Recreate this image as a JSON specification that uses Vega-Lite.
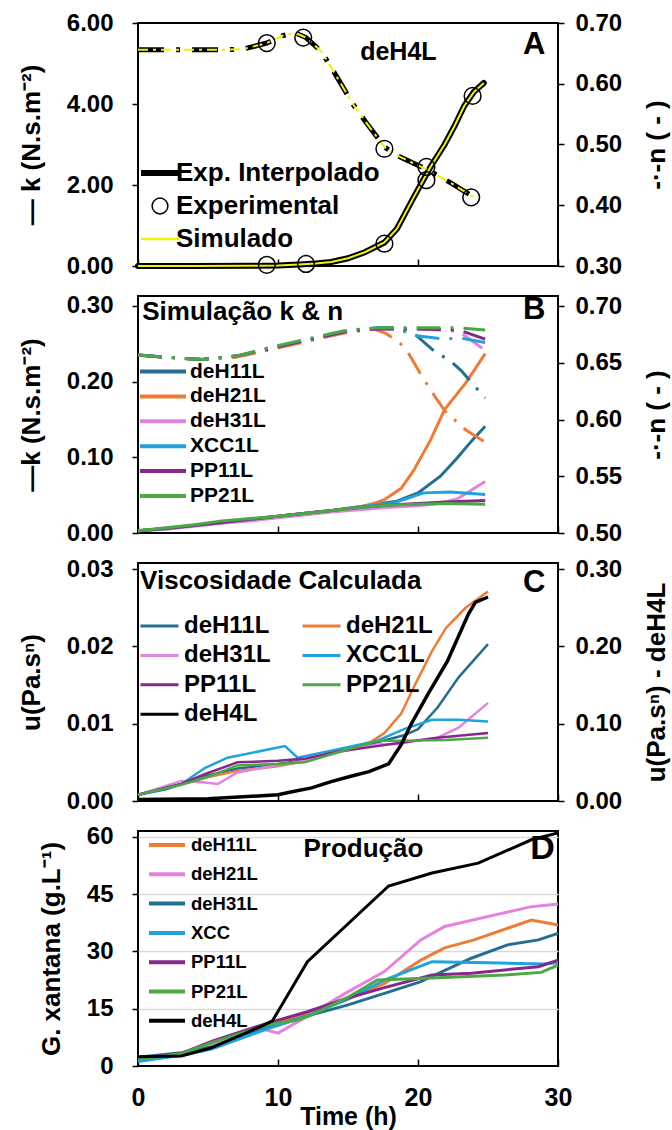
{
  "$schema": "https://vega.github.io/schema/vega-lite/v6.json",
  "background": "white",
  "padding": {"left": 17, "top": 10, "right": 5, "bottom": 5},
  "bounds": "flush",
  "spacing": 30,
  "config": {
    "font": "Liberation Sans",
    "view": {"stroke": "black", "strokeWidth": 2},
    "text": {"font": "Liberation Sans", "fontWeight": "bold", "color": "black"},
    "axis": {"labelFont": "Liberation Sans", "labelFontWeight": "bold", "labelFontSize": 24, "labelColor": "black", "titleFont": "Liberation Sans", "titleFontWeight": "bold", "titleFontSize": 26, "titleColor": "black", "tickColor": "black", "tickWidth": 1.5, "tickSize": 6, "domain": false, "grid": false, "labelFlush": false},
    "legend": {"labelFont": "Liberation Sans", "labelFontWeight": "bold", "labelColor": "black", "padding": 0, "labelLimit": 400}
  },
  "datasets": {
    "A": [
      {"m":"k","t":0,"v":0},{"m":"k","t":4,"v":0},{"m":"k","t":8,"v":0.005},{"m":"k","t":10,"v":0.015},{"m":"k","t":11.5,"v":0.035},{"m":"k","t":12.7,"v":0.06},{"m":"k","t":13.8,"v":0.1},{"m":"k","t":15,"v":0.19},{"m":"k","t":16.2,"v":0.34},{"m":"k","t":17.6,"v":0.58},{"m":"k","t":18.5,"v":0.92},{"m":"k","t":19.7,"v":1.7},{"m":"k","t":20.9,"v":2.45},{"m":"k","t":21.9,"v":3.0},{"m":"k","t":22.6,"v":3.45},{"m":"k","t":23.3,"v":3.95},{"m":"k","t":24,"v":4.3},{"m":"k","t":24.7,"v":4.52},
      {"m":"kexp","t":9.2,"v":0.03},{"m":"kexp","t":12,"v":0.05},{"m":"kexp","t":17.6,"v":0.55},{"m":"kexp","t":20.6,"v":2.12},{"m":"kexp","t":23.9,"v":4.2},
      {"m":"n","t":0,"v":0.656},{"m":"n","t":2.7,"v":0.656},{"m":"n","t":4.4,"v":0.656},{"m":"n","t":6,"v":0.656},{"m":"n","t":7.5,"v":0.657},{"m":"n","t":9.2,"v":0.667},{"m":"n","t":10.3,"v":0.679},{"m":"n","t":11.2,"v":0.684},{"m":"n","t":12,"v":0.676},{"m":"n","t":13.1,"v":0.653},{"m":"n","t":13.9,"v":0.623},{"m":"n","t":15.4,"v":0.565},{"m":"n","t":16.3,"v":0.536},{"m":"n","t":17.6,"v":0.496},{"m":"n","t":18.4,"v":0.483},{"m":"n","t":20.7,"v":0.458},{"m":"n","t":22.4,"v":0.436},{"m":"n","t":23.8,"v":0.416},{"m":"n","t":24.4,"v":0.409},
      {"m":"nexp","t":9.2,"v":0.667},{"m":"nexp","t":11.8,"v":0.676},{"m":"nexp","t":17.6,"v":0.493},{"m":"nexp","t":20.6,"v":0.463},{"m":"nexp","t":23.8,"v":0.413}
    ],
    "B": [
      {"s":"deH11L","m":"k","t":0,"v":0.003},{"s":"deH11L","m":"k","t":2,"v":0.006},{"s":"deH11L","m":"k","t":4,"v":0.010},{"s":"deH11L","m":"k","t":6,"v":0.014},{"s":"deH11L","m":"k","t":8,"v":0.018},{"s":"deH11L","m":"k","t":10,"v":0.022},{"s":"deH11L","m":"k","t":12,"v":0.026},{"s":"deH11L","m":"k","t":14,"v":0.030},{"s":"deH11L","m":"k","t":16,"v":0.035},{"s":"deH11L","m":"k","t":17,"v":0.038},{"s":"deH11L","m":"k","t":18.5,"v":0.042},{"s":"deH11L","m":"k","t":20,"v":0.053},{"s":"deH11L","m":"k","t":21.6,"v":0.075},{"s":"deH11L","m":"k","t":22.8,"v":0.099},{"s":"deH11L","m":"k","t":23.8,"v":0.121},{"s":"deH11L","m":"k","t":24.8,"v":0.141},
      {"s":"deH21L","m":"k","t":0,"v":0.003},{"s":"deH21L","m":"k","t":2,"v":0.006},{"s":"deH21L","m":"k","t":4,"v":0.010},{"s":"deH21L","m":"k","t":6,"v":0.014},{"s":"deH21L","m":"k","t":8,"v":0.018},{"s":"deH21L","m":"k","t":10,"v":0.022},{"s":"deH21L","m":"k","t":12,"v":0.026},{"s":"deH21L","m":"k","t":14,"v":0.030},{"s":"deH21L","m":"k","t":16,"v":0.035},{"s":"deH21L","m":"k","t":17,"v":0.040},{"s":"deH21L","m":"k","t":17.6,"v":0.044},{"s":"deH21L","m":"k","t":18.8,"v":0.059},{"s":"deH21L","m":"k","t":19.7,"v":0.083},{"s":"deH21L","m":"k","t":20.9,"v":0.123},{"s":"deH21L","m":"k","t":21.9,"v":0.163},{"s":"deH21L","m":"k","t":23.4,"v":0.198},{"s":"deH21L","m":"k","t":24.8,"v":0.237},
      {"s":"deH31L","m":"k","t":0,"v":0.003},{"s":"deH31L","m":"k","t":2,"v":0.005},{"s":"deH31L","m":"k","t":4,"v":0.009},{"s":"deH31L","m":"k","t":6,"v":0.013},{"s":"deH31L","m":"k","t":8,"v":0.016},{"s":"deH31L","m":"k","t":10,"v":0.020},{"s":"deH31L","m":"k","t":12,"v":0.024},{"s":"deH31L","m":"k","t":14,"v":0.028},{"s":"deH31L","m":"k","t":16,"v":0.031},{"s":"deH31L","m":"k","t":18,"v":0.034},{"s":"deH31L","m":"k","t":20,"v":0.036},{"s":"deH31L","m":"k","t":21.5,"v":0.039},{"s":"deH31L","m":"k","t":22.8,"v":0.045},{"s":"deH31L","m":"k","t":24.8,"v":0.068},
      {"s":"XCC1L","m":"k","t":0,"v":0.003},{"s":"XCC1L","m":"k","t":2,"v":0.006},{"s":"XCC1L","m":"k","t":4,"v":0.010},{"s":"XCC1L","m":"k","t":6,"v":0.014},{"s":"XCC1L","m":"k","t":8,"v":0.018},{"s":"XCC1L","m":"k","t":10,"v":0.022},{"s":"XCC1L","m":"k","t":12,"v":0.026},{"s":"XCC1L","m":"k","t":14,"v":0.030},{"s":"XCC1L","m":"k","t":16,"v":0.035},{"s":"XCC1L","m":"k","t":17,"v":0.037},{"s":"XCC1L","m":"k","t":18.3,"v":0.040},{"s":"XCC1L","m":"k","t":20.4,"v":0.053},{"s":"XCC1L","m":"k","t":22.3,"v":0.054},{"s":"XCC1L","m":"k","t":24.8,"v":0.051},
      {"s":"PP11L","m":"k","t":0,"v":0.003},{"s":"PP11L","m":"k","t":2,"v":0.006},{"s":"PP11L","m":"k","t":4,"v":0.010},{"s":"PP11L","m":"k","t":6,"v":0.014},{"s":"PP11L","m":"k","t":8,"v":0.018},{"s":"PP11L","m":"k","t":10,"v":0.022},{"s":"PP11L","m":"k","t":12,"v":0.026},{"s":"PP11L","m":"k","t":14,"v":0.030},{"s":"PP11L","m":"k","t":16,"v":0.034},{"s":"PP11L","m":"k","t":18,"v":0.037},{"s":"PP11L","m":"k","t":20,"v":0.039},{"s":"PP11L","m":"k","t":22,"v":0.041},{"s":"PP11L","m":"k","t":24.8,"v":0.043},
      {"s":"PP21L","m":"k","t":0,"v":0.003},{"s":"PP21L","m":"k","t":2,"v":0.007},{"s":"PP21L","m":"k","t":4,"v":0.011},{"s":"PP21L","m":"k","t":6,"v":0.016},{"s":"PP21L","m":"k","t":8,"v":0.019},{"s":"PP21L","m":"k","t":10,"v":0.022},{"s":"PP21L","m":"k","t":12,"v":0.026},{"s":"PP21L","m":"k","t":14,"v":0.030},{"s":"PP21L","m":"k","t":16,"v":0.034},{"s":"PP21L","m":"k","t":18,"v":0.037},{"s":"PP21L","m":"k","t":20,"v":0.038},{"s":"PP21L","m":"k","t":22,"v":0.039},{"s":"PP21L","m":"k","t":24.8,"v":0.038},
      {"s":"deH11L","m":"n","t":0,"v":0.657},{"s":"deH11L","m":"n","t":2,"v":0.655},{"s":"deH11L","m":"n","t":4.6,"v":0.653},{"s":"deH11L","m":"n","t":7,"v":0.656},{"s":"deH11L","m":"n","t":9.2,"v":0.662},{"s":"deH11L","m":"n","t":11,"v":0.667},{"s":"deH11L","m":"n","t":13.5,"v":0.674},{"s":"deH11L","m":"n","t":15,"v":0.678},{"s":"deH11L","m":"n","t":17.2,"v":0.681},{"s":"deH11L","m":"n","t":18.5,"v":0.681},{"s":"deH11L","m":"n","t":19.9,"v":0.674},{"s":"deH11L","m":"n","t":21.2,"v":0.660},{"s":"deH11L","m":"n","t":22.3,"v":0.652},{"s":"deH11L","m":"n","t":23.1,"v":0.643},{"s":"deH11L","m":"n","t":24.8,"v":0.619},
      {"s":"deH21L","m":"n","t":0,"v":0.657},{"s":"deH21L","m":"n","t":2,"v":0.655},{"s":"deH21L","m":"n","t":4.6,"v":0.653},{"s":"deH21L","m":"n","t":7,"v":0.655},{"s":"deH21L","m":"n","t":9.2,"v":0.661},{"s":"deH21L","m":"n","t":11,"v":0.666},{"s":"deH21L","m":"n","t":13.5,"v":0.673},{"s":"deH21L","m":"n","t":15,"v":0.677},{"s":"deH21L","m":"n","t":16.8,"v":0.680},{"s":"deH21L","m":"n","t":17.7,"v":0.676},{"s":"deH21L","m":"n","t":18.6,"v":0.669},{"s":"deH21L","m":"n","t":19.3,"v":0.659},{"s":"deH21L","m":"n","t":20.2,"v":0.640},{"s":"deH21L","m":"n","t":20.8,"v":0.628},{"s":"deH21L","m":"n","t":21.4,"v":0.617},{"s":"deH21L","m":"n","t":21.9,"v":0.608},{"s":"deH21L","m":"n","t":23.4,"v":0.591},{"s":"deH21L","m":"n","t":24.8,"v":0.580},
      {"s":"deH31L","m":"n","t":0,"v":0.657},{"s":"deH31L","m":"n","t":2,"v":0.655},{"s":"deH31L","m":"n","t":4.6,"v":0.653},{"s":"deH31L","m":"n","t":7,"v":0.656},{"s":"deH31L","m":"n","t":9.2,"v":0.662},{"s":"deH31L","m":"n","t":11,"v":0.667},{"s":"deH31L","m":"n","t":13.5,"v":0.674},{"s":"deH31L","m":"n","t":15,"v":0.678},{"s":"deH31L","m":"n","t":17.2,"v":0.680},{"s":"deH31L","m":"n","t":20,"v":0.680},{"s":"deH31L","m":"n","t":22.9,"v":0.678},{"s":"deH31L","m":"n","t":24.8,"v":0.661},
      {"s":"XCC1L","m":"n","t":0,"v":0.657},{"s":"XCC1L","m":"n","t":2,"v":0.655},{"s":"XCC1L","m":"n","t":4.6,"v":0.653},{"s":"XCC1L","m":"n","t":7,"v":0.656},{"s":"XCC1L","m":"n","t":9.2,"v":0.662},{"s":"XCC1L","m":"n","t":11,"v":0.667},{"s":"XCC1L","m":"n","t":13.5,"v":0.674},{"s":"XCC1L","m":"n","t":15,"v":0.678},{"s":"XCC1L","m":"n","t":17.2,"v":0.681},{"s":"XCC1L","m":"n","t":18.5,"v":0.680},{"s":"XCC1L","m":"n","t":19.9,"v":0.674},{"s":"XCC1L","m":"n","t":21.8,"v":0.671},{"s":"XCC1L","m":"n","t":23,"v":0.672},{"s":"XCC1L","m":"n","t":24.8,"v":0.668},
      {"s":"PP11L","m":"n","t":0,"v":0.657},{"s":"PP11L","m":"n","t":2,"v":0.655},{"s":"PP11L","m":"n","t":4.6,"v":0.653},{"s":"PP11L","m":"n","t":7,"v":0.656},{"s":"PP11L","m":"n","t":9.2,"v":0.662},{"s":"PP11L","m":"n","t":11,"v":0.667},{"s":"PP11L","m":"n","t":13.5,"v":0.674},{"s":"PP11L","m":"n","t":15,"v":0.678},{"s":"PP11L","m":"n","t":17.2,"v":0.680},{"s":"PP11L","m":"n","t":20,"v":0.680},{"s":"PP11L","m":"n","t":22.9,"v":0.679},{"s":"PP11L","m":"n","t":24.8,"v":0.671},
      {"s":"PP21L","m":"n","t":0,"v":0.657},{"s":"PP21L","m":"n","t":2,"v":0.655},{"s":"PP21L","m":"n","t":4.6,"v":0.653},{"s":"PP21L","m":"n","t":7,"v":0.656},{"s":"PP21L","m":"n","t":9.2,"v":0.663},{"s":"PP21L","m":"n","t":11,"v":0.668},{"s":"PP21L","m":"n","t":13.5,"v":0.675},{"s":"PP21L","m":"n","t":15,"v":0.679},{"s":"PP21L","m":"n","t":17.2,"v":0.681},{"s":"PP21L","m":"n","t":20,"v":0.681},{"s":"PP21L","m":"n","t":22.9,"v":0.681},{"s":"PP21L","m":"n","t":24.8,"v":0.679}
    ],
    "C": [
      {"s":"deH11L","t":0,"v":0.0008},{"s":"deH11L","t":2,"v":0.0015},{"s":"deH11L","t":3.1,"v":0.0022},{"s":"deH11L","t":4.8,"v":0.0032},{"s":"deH11L","t":7.1,"v":0.0042},{"s":"deH11L","t":10,"v":0.0048},{"s":"deH11L","t":12,"v":0.0053},{"s":"deH11L","t":14.3,"v":0.0064},{"s":"deH11L","t":17.1,"v":0.0076},{"s":"deH11L","t":19,"v":0.0085},{"s":"deH11L","t":20,"v":0.0093},{"s":"deH11L","t":21.4,"v":0.0121},{"s":"deH11L","t":22.9,"v":0.016},{"s":"deH11L","t":25,"v":0.0203},
      {"s":"deH21L","t":0,"v":0.0008},{"s":"deH21L","t":3.1,"v":0.0022},{"s":"deH21L","t":4.8,"v":0.003},{"s":"deH21L","t":7.1,"v":0.0039},{"s":"deH21L","t":10,"v":0.0045},{"s":"deH21L","t":12,"v":0.0052},{"s":"deH21L","t":14.3,"v":0.0064},{"s":"deH21L","t":16.5,"v":0.0075},{"s":"deH21L","t":17.6,"v":0.0088},{"s":"deH21L","t":18.8,"v":0.0113},{"s":"deH21L","t":19.8,"v":0.0151},{"s":"deH21L","t":21,"v":0.0194},{"s":"deH21L","t":22,"v":0.0224},{"s":"deH21L","t":23.4,"v":0.025},{"s":"deH21L","t":25,"v":0.0271},
      {"s":"deH31L","t":0,"v":0.0008},{"s":"deH31L","t":3.1,"v":0.0026},{"s":"deH31L","t":4.8,"v":0.0024},{"s":"deH31L","t":5.7,"v":0.0022},{"s":"deH31L","t":7.1,"v":0.0037},{"s":"deH31L","t":9.5,"v":0.0045},{"s":"deH31L","t":12,"v":0.0052},{"s":"deH31L","t":14.3,"v":0.0063},{"s":"deH31L","t":17.1,"v":0.0073},{"s":"deH31L","t":18.6,"v":0.0074},{"s":"deH31L","t":21.4,"v":0.0082},{"s":"deH31L","t":22.9,"v":0.0095},{"s":"deH31L","t":25,"v":0.0127},
      {"s":"XCC1L","t":0,"v":0.0008},{"s":"XCC1L","t":3.1,"v":0.0022},{"s":"XCC1L","t":4.8,"v":0.0043},{"s":"XCC1L","t":6.4,"v":0.0056},{"s":"XCC1L","t":10.5,"v":0.0071},{"s":"XCC1L","t":11.4,"v":0.0056},{"s":"XCC1L","t":14.3,"v":0.0067},{"s":"XCC1L","t":17.1,"v":0.0078},{"s":"XCC1L","t":19,"v":0.0093},{"s":"XCC1L","t":21,"v":0.0105},{"s":"XCC1L","t":22.9,"v":0.0105},{"s":"XCC1L","t":25,"v":0.0103},
      {"s":"PP11L","t":0,"v":0.0008},{"s":"PP11L","t":3.1,"v":0.0022},{"s":"PP11L","t":4.8,"v":0.0035},{"s":"PP11L","t":7.1,"v":0.005},{"s":"PP11L","t":10,"v":0.0052},{"s":"PP11L","t":12,"v":0.0055},{"s":"PP11L","t":14.3,"v":0.0064},{"s":"PP11L","t":17.1,"v":0.0071},{"s":"PP11L","t":18.6,"v":0.0075},{"s":"PP11L","t":21.4,"v":0.0082},{"s":"PP11L","t":25,"v":0.0088},
      {"s":"PP21L","t":0,"v":0.0008},{"s":"PP21L","t":3.1,"v":0.0021},{"s":"PP21L","t":4.8,"v":0.003},{"s":"PP21L","t":7.1,"v":0.0046},{"s":"PP21L","t":10,"v":0.0048},{"s":"PP21L","t":11.9,"v":0.005},{"s":"PP21L","t":14.3,"v":0.0063},{"s":"PP21L","t":17.1,"v":0.0078},{"s":"PP21L","t":19,"v":0.0078},{"s":"PP21L","t":22,"v":0.0079},{"s":"PP21L","t":25,"v":0.0082}
    ],
    "C4": [
      {"s":"deH4L","t":0,"v":0.002},{"s":"deH4L","t":5,"v":0.003},{"s":"deH4L","t":10,"v":0.008},{"s":"deH4L","t":11,"v":0.012},{"s":"deH4L","t":12.4,"v":0.017},{"s":"deH4L","t":13.8,"v":0.025},{"s":"deH4L","t":15.2,"v":0.032},{"s":"deH4L","t":16.5,"v":0.038},{"s":"deH4L","t":17.9,"v":0.048},{"s":"deH4L","t":18.8,"v":0.073},{"s":"deH4L","t":19.5,"v":0.099},{"s":"deH4L","t":20.7,"v":0.138},{"s":"deH4L","t":22.1,"v":0.181},{"s":"deH4L","t":23.6,"v":0.242},{"s":"deH4L","t":24.1,"v":0.257},{"s":"deH4L","t":25,"v":0.264}
    ],
    "D": [
      {"s":"deH11L","t":0,"v":2},{"s":"deH11L","t":3.1,"v":3},{"s":"deH11L","t":5.3,"v":5.5},{"s":"deH11L","t":9.3,"v":10.8},{"s":"deH11L","t":12,"v":13.5},{"s":"deH11L","t":15,"v":17.5},{"s":"deH11L","t":17.6,"v":21.6},{"s":"deH11L","t":20.2,"v":27.7},{"s":"deH11L","t":21.9,"v":30.9},{"s":"deH11L","t":24,"v":33},{"s":"deH11L","t":28.1,"v":38.2},{"s":"deH11L","t":30,"v":36.9},
      {"s":"deH21L","t":0,"v":1.8},{"s":"deH21L","t":3.1,"v":3},{"s":"deH21L","t":5.3,"v":5.8},{"s":"deH21L","t":8.8,"v":9.8},{"s":"deH21L","t":10,"v":8.6},{"s":"deH21L","t":12,"v":12.8},{"s":"deH21L","t":14.8,"v":19},{"s":"deH21L","t":17.6,"v":24.7},{"s":"deH21L","t":20.2,"v":33},{"s":"deH21L","t":21.9,"v":36.5},{"s":"deH21L","t":28.1,"v":41.7},{"s":"deH21L","t":30,"v":42.4},
      {"s":"deH31L","t":0,"v":2.3},{"s":"deH31L","t":3.1,"v":3.5},{"s":"deH31L","t":5.3,"v":5},{"s":"deH31L","t":9.3,"v":10},{"s":"deH31L","t":12,"v":13},{"s":"deH31L","t":15,"v":16},{"s":"deH31L","t":17.6,"v":19},{"s":"deH31L","t":20.2,"v":22.1},{"s":"deH31L","t":23.8,"v":28.2},{"s":"deH31L","t":26.4,"v":31.7},{"s":"deH31L","t":28.6,"v":33},{"s":"deH31L","t":30,"v":34.7},
      {"s":"XCC","t":0,"v":1.2},{"s":"XCC","t":3.1,"v":2.8},{"s":"XCC","t":5.3,"v":4.5},{"s":"XCC","t":9.3,"v":9.8},{"s":"XCC","t":12,"v":13},{"s":"XCC","t":15,"v":17.5},{"s":"XCC","t":17.6,"v":22.5},{"s":"XCC","t":21,"v":27.3},{"s":"XCC","t":25,"v":27},{"s":"XCC","t":29,"v":26.7},{"s":"XCC","t":30,"v":27},
      {"s":"PP11L","t":0,"v":2},{"s":"PP11L","t":3.1,"v":3.3},{"s":"PP11L","t":5.3,"v":6.5},{"s":"PP11L","t":9.3,"v":11.3},{"s":"PP11L","t":10.5,"v":12.5},{"s":"PP11L","t":12.1,"v":14.2},{"s":"PP11L","t":15,"v":17.8},{"s":"PP11L","t":17.6,"v":20.5},{"s":"PP11L","t":21,"v":23.8},{"s":"PP11L","t":23.8,"v":24.3},{"s":"PP11L","t":28.6,"v":26},{"s":"PP11L","t":30,"v":27.7},
      {"s":"PP21L","t":0,"v":1.8},{"s":"PP21L","t":3.1,"v":3.2},{"s":"PP21L","t":5.3,"v":6.2},{"s":"PP21L","t":9.3,"v":10.8},{"s":"PP21L","t":11.4,"v":12},{"s":"PP21L","t":12.5,"v":13.5},{"s":"PP21L","t":15,"v":18},{"s":"PP21L","t":17.1,"v":22.5},{"s":"PP21L","t":21,"v":23},{"s":"PP21L","t":26.2,"v":23.8},{"s":"PP21L","t":28.8,"v":24.5},{"s":"PP21L","t":30,"v":26.4},
      {"s":"deH4L","t":0,"v":2.4},{"s":"deH4L","t":3.1,"v":2.6},{"s":"deH4L","t":5.2,"v":4.7},{"s":"deH4L","t":9,"v":10.7},{"s":"deH4L","t":9.6,"v":11.8},{"s":"deH4L","t":12.1,"v":27.3},{"s":"deH4L","t":17.9,"v":47.1},{"s":"deH4L","t":21,"v":50.5},{"s":"deH4L","t":24.3,"v":53.1},{"s":"deH4L","t":28.1,"v":59.2},{"s":"deH4L","t":30,"v":61}
    ]
  },
  "vconcat": [
    {
      "width": 420, "height": 243,
      "data": {"name": "A"},
      "encoding": {"x": {"field": "t", "type": "quantitative", "scale": {"domain": [0, 30], "nice": false}, "axis": {"values": [0, 10, 20, 30], "labels": false, "title": null, "tickSize": -7}}},
      "layer": [
        {
          "encoding": {"y": {"field": "v", "type": "quantitative", "scale": {"domain": [0, 6], "nice": false}, "axis": {"values": [0, 2, 4, 6], "format": ".2f", "title": "— k (N.s.m⁻²)", "labelPadding": 19, "titlePadding": 22}}},
          "layer": [
            {"transform": [{"filter": "datum.m === 'k'"}], "mark": {"type": "line", "strokeWidth": 6, "strokeCap": "round"},
             "encoding": {"color": {"datum": "Exp. Interpolado", "type": "nominal", "scale": {"domain": ["Exp. Interpolado", "Experimental", "Simulado"], "range": ["#000000", "#000000", "#f2f200"]},
               "legend": {"title": null, "orient": "none", "legendX": 9, "legendY": 137, "labelFontSize": 26, "symbolType": "stroke", "symbolSize": 1444, "symbolStrokeWidth": 2.5, "rowPadding": 7, "labelOffset": 3,
                 "encode": {"symbols": {"update": {
                   "shape": {"signal": "datum.value === 'Experimental' ? 'circle' : 'stroke'"},
                   "size": {"signal": "datum.value === 'Experimental' ? 250 : 1444"},
                   "strokeWidth": {"signal": "datum.value === 'Exp. Interpolado' ? 6 : (datum.value === 'Experimental' ? 1.5 : 2.5)"},
                   "stroke": {"signal": "datum.value === 'Simulado' ? '#f2f200' : '#000000'"},
                   "fill": {"value": "transparent"},
                   "strokeDash": {"value": []},
                   "opacity": {"value": 1}}}}}}}},
            {"transform": [{"filter": "datum.m === 'k'"}], "mark": {"type": "line", "strokeWidth": 2},
             "encoding": {"color": {"datum": "Simulado", "type": "nominal", "scale": {"domain": ["Exp. Interpolado", "Experimental", "Simulado"], "range": ["#000000", "#000000", "#f2f200"]}}}},
            {"transform": [{"filter": "datum.m === 'kexp'"}], "mark": {"type": "point", "filled": false, "size": 280, "strokeWidth": 1.5, "opacity": 1},
             "encoding": {"color": {"datum": "Experimental", "type": "nominal", "scale": {"domain": ["Exp. Interpolado", "Experimental", "Simulado"], "range": ["#000000", "#000000", "#f2f200"]}}}},
            {"data": {"values": [{"label": "deH4L", "t": 18.6, "v": 5.28}]}, "mark": {"type": "text", "fontSize": 25, "align": "center", "baseline": "middle", "color": "black"},
             "encoding": {"text": {"field": "label"}}},
            {"data": {"values": [{"label": "A", "t": 28.3, "v": 5.45}]}, "mark": {"type": "text", "fontSize": 31, "align": "center", "baseline": "middle", "color": "black"},
             "encoding": {"text": {"field": "label"}}}
          ]
        },
        {
          "encoding": {"y": {"field": "v", "type": "quantitative", "scale": {"domain": [0.3, 0.7], "nice": false}, "axis": {"orient": "right", "values": [0.3, 0.4, 0.5, 0.6, 0.7], "format": ".2f", "title": "-·-n ( - )", "labelPadding": 11, "titlePadding": 22, "titleAngle": 270, "titleBaseline": "top"}}},
          "layer": [
            {"transform": [{"filter": "datum.m === 'n'"}], "mark": {"type": "line", "strokeWidth": 5, "strokeDash": [26, 12, 4, 12]},
             "encoding": {"color": {"datum": "Exp. Interpolado", "type": "nominal", "scale": {"domain": ["Exp. Interpolado", "Experimental", "Simulado"], "range": ["#000000", "#000000", "#f2f200"]}}}},
            {"transform": [{"filter": "datum.m === 'n'"}], "mark": {"type": "line", "strokeWidth": 2, "strokeDash": [10, 5, 3, 5]},
             "encoding": {"color": {"datum": "Simulado", "type": "nominal", "scale": {"domain": ["Exp. Interpolado", "Experimental", "Simulado"], "range": ["#000000", "#000000", "#f2f200"]}}}},
            {"transform": [{"filter": "datum.m === 'nexp'"}], "mark": {"type": "point", "filled": false, "size": 280, "strokeWidth": 1.5, "opacity": 1},
             "encoding": {"color": {"datum": "Experimental", "type": "nominal", "scale": {"domain": ["Exp. Interpolado", "Experimental", "Simulado"], "range": ["#000000", "#000000", "#f2f200"]}}}}
          ]
        }
      ],
      "resolve": {"scale": {"y": "independent"}}
    },
    {
      "width": 420, "height": 237,
      "data": {"name": "B"},
      "encoding": {"x": {"field": "t", "type": "quantitative", "scale": {"domain": [0, 30], "nice": false}, "axis": {"values": [0, 10, 20, 30], "labels": false, "title": null, "tickSize": -7}}},
      "layer": [
        {
          "encoding": {"y": {"field": "v", "type": "quantitative", "scale": {"domain": [0, 0.313], "nice": false}, "axis": {"values": [0, 0.1, 0.2, 0.3], "format": ".2f", "title": "—k (N.s.m⁻²)", "labelPadding": 19, "titlePadding": 22}}},
          "layer": [
            {"transform": [{"filter": "datum.m === 'k'"}], "mark": {"type": "line", "strokeWidth": 3},
             "encoding": {"color": {"field": "s", "type": "nominal", "scale": {"domain": ["deH11L", "deH21L", "deH31L", "XCC1L", "PP11L", "PP21L"], "range": ["#236e91", "#ef7b35", "#e582e0", "#1fa3dc", "#86288a", "#4aa845"]},
               "legend": {"title": null, "orient": "none", "legendX": 0, "legendY": 62, "labelFontSize": 21, "symbolType": "M-1,0H3", "symbolSize": 529, "symbolStrokeWidth": 4, "rowPadding": 0.9, "labelOffset": 25,
                 "encode": {"symbols": {"update": {"strokeDash": {"value": []}, "opacity": {"value": 1}}}}}}}},
            {"data": {"values": [{"label": "Simulação k & n", "t": 0.3, "v": 0.292}]}, "mark": {"type": "text", "fontSize": 26, "align": "left", "baseline": "middle", "color": "black"},
             "encoding": {"text": {"field": "label"}}},
            {"data": {"values": [{"label": "B", "t": 28.3, "v": 0.295}]}, "mark": {"type": "text", "fontSize": 31, "align": "center", "baseline": "middle", "color": "black"},
             "encoding": {"text": {"field": "label"}}}
          ]
        },
        {
          "encoding": {"y": {"field": "v", "type": "quantitative", "scale": {"domain": [0.5, 0.709], "nice": false}, "axis": {"orient": "right", "values": [0.5, 0.55, 0.6, 0.65, 0.7], "format": ".2f", "title": "-·-n ( - )", "labelPadding": 11, "titlePadding": 22, "titleAngle": 270, "titleBaseline": "top"}}},
          "layer": [
            {"transform": [{"filter": "datum.m === 'n'"}], "mark": {"type": "line", "strokeWidth": 3, "strokeDash": [24, 10, 3, 10]},
             "encoding": {"color": {"field": "s", "type": "nominal", "scale": {"domain": ["deH11L", "deH21L", "deH31L", "XCC1L", "PP11L", "PP21L"], "range": ["#236e91", "#ef7b35", "#e582e0", "#1fa3dc", "#86288a", "#4aa845"]}}}}
          ]
        }
      ],
      "resolve": {"scale": {"y": "independent"}}
    },
    {
      "width": 420, "height": 238,
      "encoding": {"x": {"field": "t", "type": "quantitative", "scale": {"domain": [0, 30], "nice": false}, "axis": {"values": [0, 10, 20, 30], "labels": false, "title": null, "tickSize": -7}}},
      "layer": [
        {
          "data": {"name": "C"},
          "encoding": {"y": {"field": "v", "type": "quantitative", "scale": {"domain": [0, 0.0308], "nice": false}, "axis": {"values": [0, 0.01, 0.02, 0.03], "format": ".2f", "title": "u(Pa.sⁿ)", "labelPadding": 19, "titlePadding": 22}}},
          "layer": [
            {"mark": {"type": "line", "strokeWidth": 2.5},
             "encoding": {"color": {"field": "s", "type": "nominal", "scale": {"domain": ["deH11L", "deH31L", "PP11L", "deH4L", "deH21L", "XCC1L", "PP21L"], "range": ["#236e91", "#e582e0", "#86288a", "#000000", "#ef7b35", "#1fa3dc", "#4aa845"]},
               "legend": {"title": null, "orient": "none", "legendX": 0, "legendY": 51, "columns": 2, "columnPadding": 25, "labelFontSize": 24, "symbolType": "M-1,0H3", "symbolSize": 361, "symbolStrokeWidth": 3, "rowPadding": 5.4, "labelOffset": 22,
                 "encode": {"symbols": {"update": {"strokeDash": {"value": []}, "opacity": {"value": 1}}}}}}}},
            {"data": {"values": [{"label": "Viscosidade Calculada", "t": 0.15, "v": 0.0285}]}, "mark": {"type": "text", "fontSize": 26, "align": "left", "baseline": "middle", "color": "black"},
             "encoding": {"text": {"field": "label"}}},
            {"data": {"values": [{"label": "C", "t": 28.3, "v": 0.0282}]}, "mark": {"type": "text", "fontSize": 31, "align": "center", "baseline": "middle", "color": "black"},
             "encoding": {"text": {"field": "label"}}}
          ]
        },
        {
          "data": {"name": "C4"},
          "encoding": {"y": {"field": "v", "type": "quantitative", "scale": {"domain": [0, 0.308], "nice": false}, "axis": {"orient": "right", "values": [0, 0.1, 0.2, 0.3], "format": ".2f", "title": "u(Pa.sⁿ) - deH4L", "labelPadding": 11, "titlePadding": 22, "titleAngle": 270, "titleBaseline": "top"}}},
          "layer": [
            {"mark": {"type": "line", "strokeWidth": 3.5},
             "encoding": {"color": {"field": "s", "type": "nominal", "scale": {"domain": ["deH11L", "deH31L", "PP11L", "deH4L", "deH21L", "XCC1L", "PP21L"], "range": ["#236e91", "#e582e0", "#86288a", "#000000", "#ef7b35", "#1fa3dc", "#4aa845"]}}}}
          ]
        }
      ],
      "resolve": {"scale": {"y": "independent"}}
    },
    {
      "width": 420, "height": 235,
      "data": {"name": "D"},
      "encoding": {
        "x": {"field": "t", "type": "quantitative", "scale": {"domain": [0, 30], "nice": false}, "axis": {"values": [0, 10, 20, 30], "format": "d", "title": "Time (h)", "tickSize": -7, "labelPadding": 26, "labelFontSize": 25, "titleFontSize": 25, "titlePadding": -6}},
        "y": {"field": "v", "type": "quantitative", "scale": {"domain": [0, 61.5], "nice": false}, "axis": {"values": [0, 15, 30, 45, 60], "format": "d", "title": "G. xantana (g.L⁻¹)", "labelPadding": 19, "titlePadding": 22, "labelFontSize": 24, "grid": true, "gridColor": "#d9d9d9", "gridWidth": 1.5, "gridOpacity": {"condition": {"test": "datum.value === 0", "value": 0}, "value": 1}}}
      },
      "layer": [
        {"mark": {"type": "line", "strokeWidth": 3},
         "encoding": {"color": {"field": "s", "type": "nominal", "scale": {"domain": ["deH11L", "deH21L", "deH31L", "XCC", "PP11L", "PP21L", "deH4L"], "range": ["#ef7b35", "#e582e0", "#236e91", "#1fa3dc", "#86288a", "#4aa845", "#000000"]},
           "legend": {"title": null, "orient": "none", "legendX": 9, "legendY": 3, "labelFontSize": 18.5, "symbolType": "M-1,0H3", "symbolSize": 324, "symbolStrokeWidth": 4, "rowPadding": 8.3, "labelOffset": 22}}}},
        {"data": {"values": [{"label": "Produção", "t": 16.1, "v": 56.8}]}, "mark": {"type": "text", "fontSize": 26, "align": "center", "baseline": "middle", "color": "black"},
         "encoding": {"text": {"field": "label"}}},
        {"data": {"values": [{"label": "D", "t": 28.9, "v": 56.8}]}, "mark": {"type": "text", "fontSize": 34, "align": "center", "baseline": "middle", "color": "black"},
         "encoding": {"text": {"field": "label"}}}
      ]
    }
  ],
  "resolve": {"scale": {"color": "independent", "y": "independent"}, "legend": {"color": "independent"}}
}
